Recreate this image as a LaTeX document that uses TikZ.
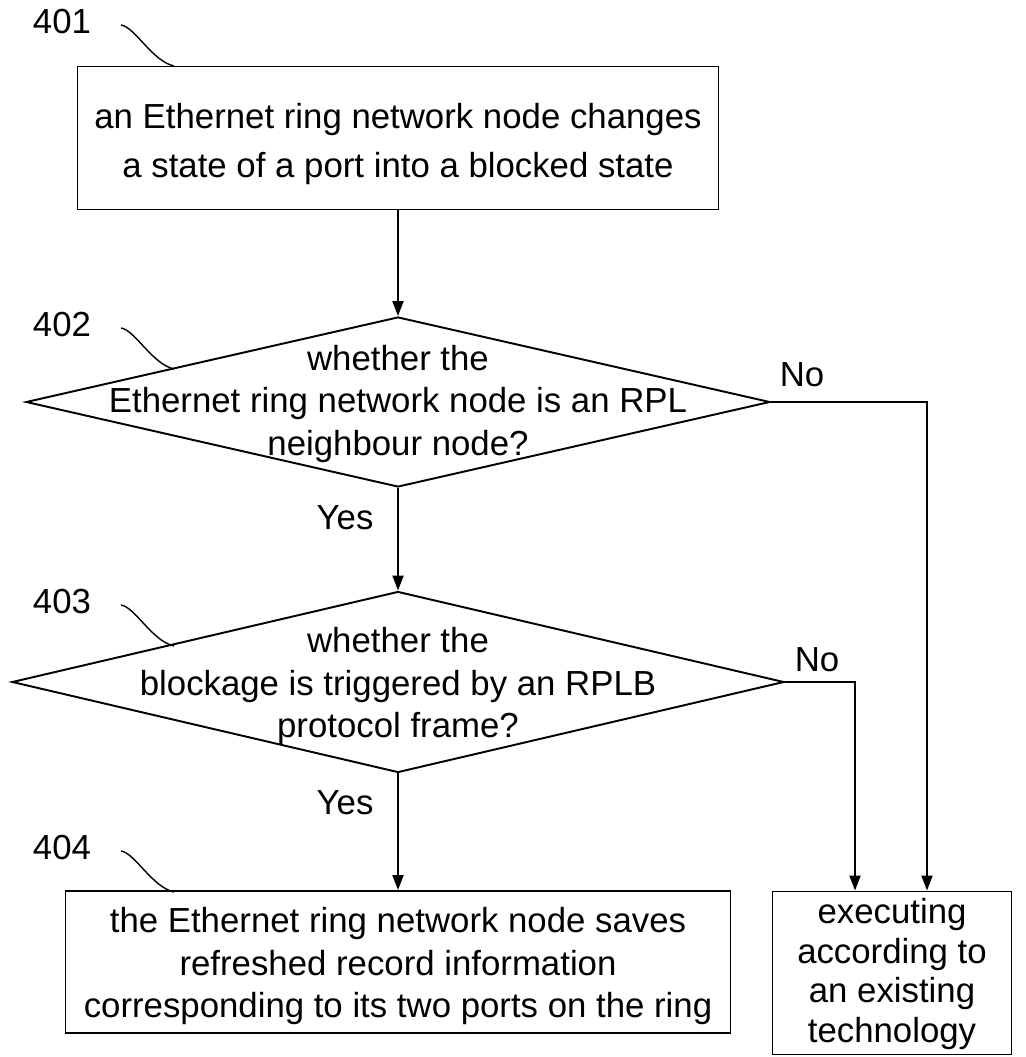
\documentclass[tikz,border=0pt]{standalone}
\usepackage{fontspec}
\setmainfont{Liberation Sans}
\usetikzlibrary{shapes.geometric,arrows.meta}

\begin{document}
\begin{tikzpicture}[x=0.02cm, y=-0.02cm, line width=1.1pt,
        font=\fontsize{19.8}{24.3}\selectfont,
        stepbox/.style={draw, inner sep=0pt},
        decision/.style={draw, diamond, inner sep=0pt},
        steptext/.style={align=center, inner sep=0pt},
        flow/.style={-{Triangle[length=0.3cm, width=0.22cm]}}]
    \useasboundingbox (0,0) rectangle (1025,1057);
    % steps
    \node[stepbox, minimum width=641*0.02cm, minimum height=143*0.02cm] (s401) at (398,138) {};
    \node[steptext, font=\fontsize{19.8}{28}\selectfont] (t401) at (398,144) {an Ethernet ring network node changes\\a state of a port into a blocked state};
    \node[decision, minimum width=744*0.02cm, minimum height=170*0.02cm] (d402) at (398,402) {};
    \node[steptext] (t402) at (398,404) {whether the\\Ethernet ring network node is an RPL\\neighbour node?};
    \node[decision, minimum width=772*0.02cm, minimum height=181*0.02cm] (d403) at (398,682) {};
    \node[steptext] (t403) at (398,686) {whether the\\blockage is triggered by an RPLB\\protocol frame?};
    \node[stepbox, minimum width=665*0.02cm, minimum height=142*0.02cm] (s404) at (398,962) {};
    \node[steptext] (t404) at (398,966) {the Ethernet ring network node saves\\refreshed record information\\corresponding to its two ports on the ring};
    \node[stepbox, minimum width=239*0.02cm, minimum height=163*0.02cm] (s405) at (892,973) {};
    \node[steptext, font=\fontsize{19.8}{22.6}\selectfont] (t405) at (892,974) {executing\\according to\\an existing\\technology};
    % connectors
    \draw[flow] (s401) -- (d402);
    \draw[flow] (d402) -- (d403);
    \draw[flow] (d403) -- (s404);
    \draw[flow] (d402.east) -| ([xshift=0.7cm]s405.north);
    \draw[flow] (d403.east) -| ([xshift=-0.74cm]s405.north);
    \node (no402) at (802,375) {No};
    \node (no403) at (817,660) {No};
    \node (yes402) at (345,518) {Yes};
    \node (yes403) at (345,803) {Yes};
    % step numbers
    \foreach \n/\y in {401/22, 402/325, 403/602, 404/848} {
        \node (n\n) at (62,\y) {\n};
        \draw[line width=0.8pt] (121,\y+3) .. controls +(14,2) and +(-22,-5) .. (174,\y+44);
    }
\end{tikzpicture}
\end{document}
